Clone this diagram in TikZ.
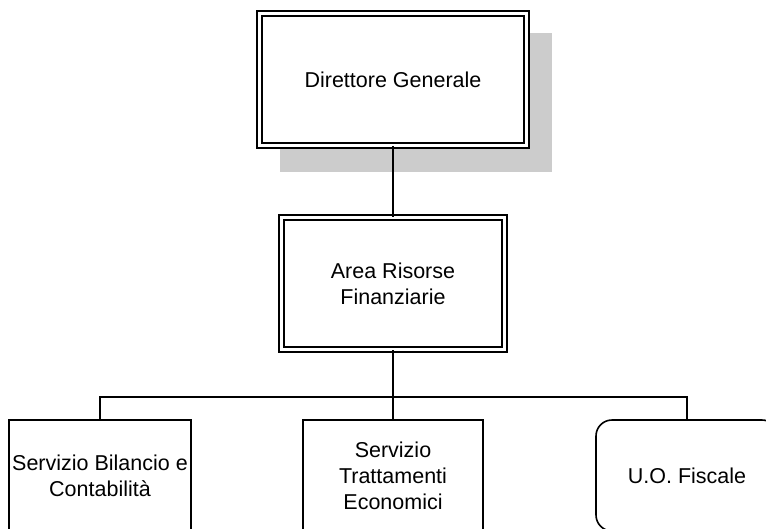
\documentclass[tikz,border=0pt]{standalone}
\usepackage{fontspec}
\setmainfont{Liberation Sans}
\definecolor{shadowgray}{HTML}{CCCCCC}
\begin{document}
\begin{tikzpicture}[x=1pt,y=1pt,
  lw/.style={line width=1.6pt},
  dblbox/.style={draw, lw, double, double distance=3.4pt, fill=white, inner sep=0pt, align=center,
    font=\fontsize{21.5}{26}\selectfont},
  unitbox/.style={draw, lw, fill=white, inner sep=0pt, align=center,
    minimum width=182pt, minimum height=111pt, font=\fontsize{21.5}{26}\selectfont},
  conn/.style={lw}]
\useasboundingbox (0,0) rectangle (766,-528);
\clip (0,0) rectangle (766,-528);
% shadow
\fill[shadowgray] (280,-33) rectangle (552,-172);
% nodes
\node[dblbox, minimum width=267pt, minimum height=132pt] (dg) at (393,-79.5) {Direttore Generale};
\node[dblbox, minimum width=223pt, minimum height=132pt] (arf) at (393,-283.5) {Area Risorse\\Finanziarie};
\node[unitbox] (sbc) at (100,-475.5) {Servizio Bilancio e\\Contabilità};
\node[unitbox, minimum width=180pt] (ste) at (393,-475.5) {Servizio\\Trattamenti\\Economici};
\node[unitbox, rounded corners=16pt] (uof) at (687,-475.5) {U.O. Fiscale};
\coordinate (bus) at (393,-397);
% connectors
\draw[conn] (dg.south) -- (arf.north);
\draw[conn] (arf.south) -- (ste.north);
\draw[conn] (sbc.north) -- (sbc.north |- bus) -- (uof.north |- bus) -- (uof.north);
\end{tikzpicture}
\end{document}
